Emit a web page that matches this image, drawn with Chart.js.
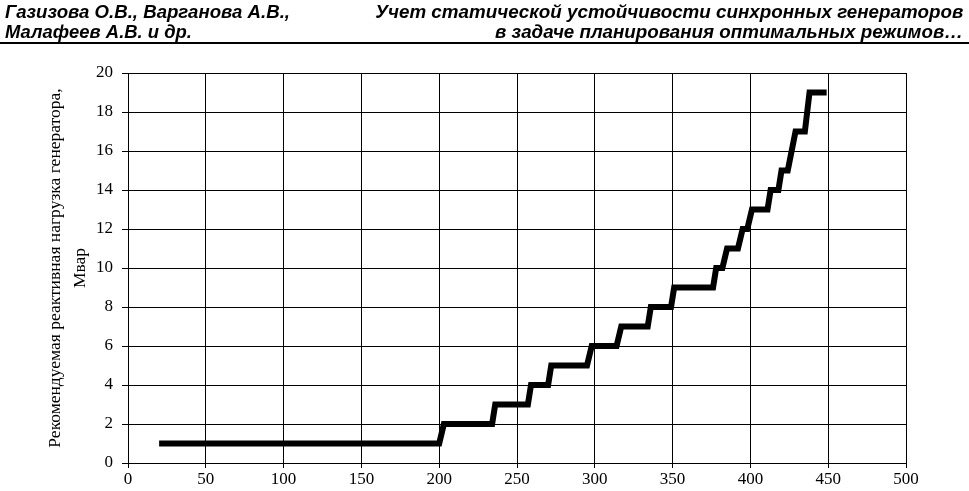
<!DOCTYPE html>
<html>
<head>
<meta charset="utf-8">
<script src="https://cdn.jsdelivr.net/npm/chart.js@4"></script>
<style>
  body { margin: 0; background: #fff; }
  #wrap { position: relative; width: 969px; height: 491px; overflow: hidden; }
  #chart { position: absolute; left: 0; top: 0; }
  .hd { position: absolute; font-family: "Liberation Sans", Arial, sans-serif; font-weight: bold; font-style: italic;
        font-size: 19px; line-height: 20px; white-space: nowrap; color: #000; }
  .l { left: 5px; transform-origin: left center; }
  .r { right: 6px; transform-origin: right center; }
  #rule { position: absolute; left: 0; top: 42px; width: 969px; height: 2px; background: #000; }
</style>
</head>
<body>
<div id="wrap">
  <canvas id="chart" width="969" height="491"></canvas>
  <div class="hd l" style="top:2px" data-w="285">Газизова О.В., Варганова А.В.,</div>
  <div class="hd l" style="top:22px" data-w="187">Малафеев А.В. и др.</div>
  <div class="hd r" style="top:2px" data-w="588">Учет статической устойчивости синхронных генераторов</div>
  <div class="hd r" style="top:22px" data-w="468">в задаче планирования оптимальных режимов…</div>
  <div id="rule"></div>
</div>
<script>
// ==========================================
// DATA
// ==========================================
const stepX = [20, 200, 203, 234, 236, 257, 259, 270, 272, 295, 298, 314, 317, 334, 336, 349, 351,
               376, 378, 382, 385, 392, 395, 398, 401, 411, 413, 418, 420, 424, 429, 435, 438, 449];
const stepY = [1, 1, 2, 2, 3, 3, 4, 4, 5, 5, 6, 6, 7, 7, 8, 8, 9,
               9, 10, 10, 11, 11, 12, 12, 13, 13, 14, 14, 15, 15, 17, 17, 19, 19];
const yTitle = ["Рекомендуемая реактивная нагрузка генератора,", "Мвар"];

// header lines: squeeze to the width they have in the picture
document.querySelectorAll('.hd').forEach(el => {
    const w = el.getBoundingClientRect().width;
    el.style.transform = 'scaleX(' + (el.dataset.w / w) + ')';
});

const serif = "'Liberation Serif', 'Times New Roman', serif";

const ctx = document.getElementById('chart').getContext('2d');
new Chart(ctx, {
    type: 'scatter',
    data: {
        datasets: [{
            data: stepX.map((x, i) => ({ x: x, y: stepY[i] })),
            showLine: true,
            borderColor: '#000',
            borderWidth: 6,
            pointRadius: 0,
            tension: 0,
            borderCapStyle: 'butt',
            borderJoinStyle: 'miter'
        }]
    },
    options: {
        responsive: false,
        animation: false,
        layout: { padding: { left: 0, top: 73, right: 63, bottom: 0 } },
        plugins: { legend: { display: false }, tooltip: { enabled: false } },
        scales: {
            x: {
                type: 'linear', min: 0, max: 500,
                afterFit: s => { s.height = 28; },
                ticks: { stepSize: 50, color: '#000', padding: 1, maxRotation: 0,
                         font: { family: serif, size: 17 } },
                grid: { color: '#000', lineWidth: 1, tickLength: 5 },
                border: { color: '#000', width: 1 }
            },
            y: {
                min: 0, max: 20,
                afterFit: s => { s.width = 128; },
                ticks: { stepSize: 2, color: '#000', padding: 9,
                         font: { family: serif, size: 17 } },
                grid: { color: '#000', lineWidth: 1, tickLength: 6 },
                border: { color: '#000', width: 1 },
                title: { display: true, text: yTitle, color: '#000',
                         padding: { top: 42.5, bottom: 0 },
                         font: { family: serif, size: 17.5, lineHeight: 1.43 } }
            }
        }
    }
});
</script>
</body>
</html>
